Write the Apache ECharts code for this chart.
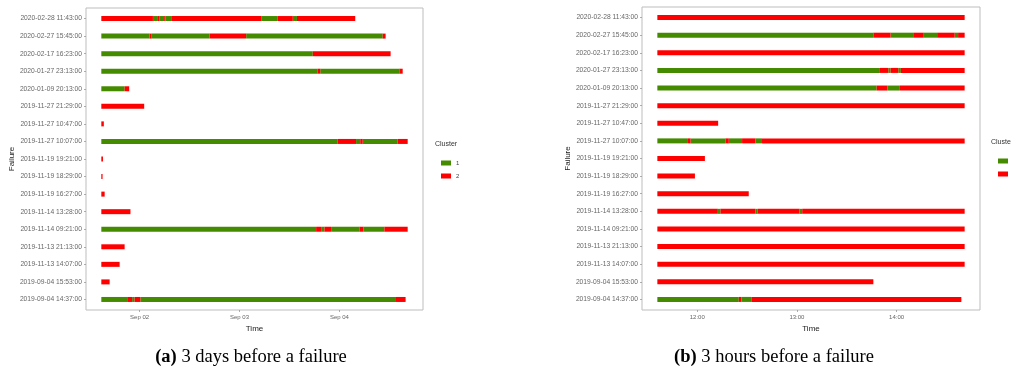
<!DOCTYPE html>
<html>
<head>
<meta charset="utf-8">
<script src="https://cdn.jsdelivr.net/npm/echarts@6/dist/echarts.min.js"></script>
<style>
html,body{margin:0;padding:0;background:#fff;}
#c{width:1011px;height:376px;}
</style>
</head>
<body>
<div id="c"></div>
<script>
// ---- data ----
const failureLabels = [
  '2020-02-28 11:43:00','2020-02-27 15:45:00','2020-02-17 16:23:00','2020-01-27 23:13:00',
  '2020-01-09 20:13:00','2019-11-27 21:29:00','2019-11-27 10:47:00','2019-11-27 10:07:00',
  '2019-11-19 19:21:00','2019-11-19 18:29:00','2019-11-19 16:27:00','2019-11-14 13:28:00',
  '2019-11-14 09:21:00','2019-11-13 21:13:00','2019-11-13 14:07:00','2019-09-04 15:53:00',
  '2019-09-04 14:37:00'
];
const clusterNames = ['1', '2'];

// (a) 3 days before a failure: hours since Sep 01 00:00, [start, end, cluster]
const segmentsDays = [
  [[14.8,27.2,2],[27.2,28.4,1],[28.4,28.7,2],[28.7,29.9,1],[29.9,30.2,2],[30.2,31.6,1],[31.6,53.2,2],[53.2,57.1,1],[57.1,60.8,2],[60.8,61.8,1],[61.8,75.8,2]],
  [[14.8,26.4,1],[26.4,26.9,2],[26.9,40.8,1],[40.8,49.6,2],[49.6,82.4,1],[82.4,83.1,2]],
  [[14.8,65.6,1],[65.6,84.3,2]],
  [[14.8,66.8,1],[66.8,67.4,2],[67.4,86.4,1],[86.4,87.2,2]],
  [[14.8,20.4,1],[20.4,21.5,2]],
  [[14.8,25.1,2]],
  [[14.8,15.4,2]],
  [[14.8,71.6,1],[71.6,76.0,2],[76.0,77.0,1],[77.0,77.6,2],[77.6,86.0,1],[86.0,88.4,2]],
  [[14.8,15.2,2]],
  [[14.8,15.1,2]],
  [[14.8,15.6,2]],
  [[14.8,21.8,2]],
  [[14.8,66.4,1],[66.4,67.6,2],[67.6,68.4,1],[68.4,70.0,2],[70.0,76.8,1],[76.8,77.8,2],[77.8,82.8,1],[82.8,88.4,2]],
  [[14.8,20.4,2]],
  [[14.8,19.2,2]],
  [[14.8,16.8,2]],
  [[14.8,21.2,1],[21.2,22.2,2],[22.2,22.8,1],[22.8,24.2,2],[24.2,85.6,1],[85.6,87.9,2]]
];
const dayTicks = [24, 48, 72];
const dayTickLabels = ['Sep 02', 'Sep 03', 'Sep 04'];

// (b) 3 hours before a failure: hour of day, [start, end, cluster]
const segmentsHours = [
  [[11.6,14.683,2]],
  [[11.6,13.767,1],[13.767,13.94,2],[13.94,14.167,1],[14.167,14.273,2],[14.273,14.407,1],[14.407,14.583,2],[14.583,14.617,1],[14.617,14.683,2]],
  [[11.6,14.683,2]],
  [[11.6,13.833,1],[13.833,13.917,2],[13.917,13.94,1],[13.94,14.017,2],[14.017,14.043,1],[14.043,14.683,2]],
  [[11.6,13.8,1],[13.8,13.907,2],[13.907,14.033,1],[14.033,14.683,2]],
  [[11.6,14.683,2]],
  [[11.6,12.21,2]],
  [[11.6,11.907,1],[11.907,11.933,2],[11.933,12.283,1],[12.283,12.317,2],[12.317,12.45,1],[12.45,12.583,2],[12.583,12.65,1],[12.65,14.683,2]],
  [[11.6,12.077,2]],
  [[11.6,11.977,2]],
  [[11.6,12.517,2]],
  [[11.6,12.207,2],[12.207,12.233,1],[12.233,12.583,2],[12.583,12.607,1],[12.607,13.027,2],[13.027,13.053,1],[13.053,14.683,2]],
  [[11.6,14.683,2]],
  [[11.6,14.683,2]],
  [[11.6,14.683,2]],
  [[11.6,13.767,2]],
  [[11.6,12.417,1],[12.417,12.443,2],[12.443,12.543,1],[12.543,14.65,2]]
];
const hourTicks = [12, 13, 14];
const hourTickLabels = ['12:00', '13:00', '14:00'];

// ---- chart ----
const GREEN = '#458B00', RED = '#FF0000';
const rowValues = failureLabels.map((_, i) => i + 1);

function toData(segs, cl) {
  const out = [];
  segs.forEach((row, i) => row.forEach(s => { if (s[2] === cl) out.push([i + 1, s[0], s[1]]); }));
  return out;
}
function renderItem(params, api) {
  const row = api.value(0);
  const p0 = api.coord([api.value(1), row]);
  const p1 = api.coord([api.value(2), row]);
  const h = 5;
  return {
    type: 'rect',
    shape: { x: p0[0], y: p0[1] - h / 2, width: Math.max(p1[0] - p0[0], 1), height: h },
    style: api.style()
  };
}
const font = 'Liberation Sans';
function yAxis(idx) {
  return {
    type: 'value', gridIndex: idx, min: 0.4, max: 17.6, inverse: true,
    name: 'Failure', nameLocation: 'middle', nameRotate: 90, nameGap: 68,
    nameTextStyle: { fontSize: 8, color: '#222', fontFamily: font },
    axisLine: { show: false }, splitLine: { show: false },
    axisTick: { show: true, length: 2, customValues: rowValues, lineStyle: { color: '#999', width: 0.8 } },
    axisLabel: { customValues: rowValues, margin: 4, fontSize: 6.7, color: '#666', fontFamily: font,
      formatter: v => failureLabels[Math.round(v) - 1] }
  };
}
function xAxis(idx, min, max, ticks, labels) {
  return {
    type: 'value', gridIndex: idx, min: min, max: max,
    name: 'Time', nameLocation: 'middle', nameGap: 10,
    nameTextStyle: { fontSize: 8, color: '#222', fontFamily: font },
    axisLine: { show: false }, splitLine: { show: false },
    axisTick: { show: true, length: 2, customValues: ticks, lineStyle: { color: '#999', width: 0.8 } },
    axisLabel: { customValues: ticks, margin: 4, fontSize: 6, color: '#666', fontFamily: font,
      formatter: v => labels[ticks.indexOf(v)] }
  };
}
function legend(left, top) {
  return {
    left: left, top: top, orient: 'vertical', data: clusterNames, icon: 'rect',
    itemWidth: 10, itemHeight: 5, itemGap: 7, selectedMode: false,
    textStyle: { fontSize: 6, color: '#444', fontFamily: font }
  };
}
const chart = echarts.init(document.getElementById('c'), null, { renderer: 'canvas' });
chart.setOption({
  animation: false,
  backgroundColor: '#fff',
  grid: [
    { left: 86, top: 8, width: 337, height: 302, show: true, borderColor: '#bdbdbd', borderWidth: 1, backgroundColor: '#fff' },
    { left: 642, top: 7, width: 338, height: 303, show: true, borderColor: '#bdbdbd', borderWidth: 1, backgroundColor: '#fff' }
  ],
  xAxis: [
    xAxis(0, 11.12, 92.08, dayTicks, dayTickLabels),
    xAxis(1, 11.446, 14.837, hourTicks, hourTickLabels)
  ],
  yAxis: [yAxis(0), yAxis(1)],
  legend: [legend(436, 155), legend(993, 153)],
  series: [
    { type: 'custom', name: clusterNames[0], xAxisIndex: 0, yAxisIndex: 0, renderItem, itemStyle: { color: GREEN }, encode: { x: [1, 2], y: 0 }, data: toData(segmentsDays, 1) },
    { type: 'custom', name: clusterNames[1], xAxisIndex: 0, yAxisIndex: 0, renderItem, itemStyle: { color: RED }, encode: { x: [1, 2], y: 0 }, data: toData(segmentsDays, 2) },
    { type: 'custom', name: clusterNames[0], xAxisIndex: 1, yAxisIndex: 1, renderItem, itemStyle: { color: GREEN }, encode: { x: [1, 2], y: 0 }, data: toData(segmentsHours, 1) },
    { type: 'custom', name: clusterNames[1], xAxisIndex: 1, yAxisIndex: 1, renderItem, itemStyle: { color: RED }, encode: { x: [1, 2], y: 0 }, data: toData(segmentsHours, 2) }
  ],
  graphic: [
    { type: 'text', left: 435, top: 141, style: { text: 'Cluster', fontSize: 7, fill: '#333', fontFamily: font } },
    { type: 'text', left: 991, top: 139, style: { text: 'Cluster', fontSize: 7, fill: '#333', fontFamily: font } },
    { type: 'text', x: 251, y: 357, style: { text: '{b|(a)} 3 days before a failure', align: 'center', verticalAlign: 'middle', fontSize: 18.5, fill: '#000', fontFamily: 'Liberation Serif', rich: { b: { fontWeight: 'bold', fontSize: 18.5, fontFamily: 'Liberation Serif', fill: '#000' } } } },
    { type: 'text', x: 774, y: 357, style: { text: '{b|(b)} 3 hours before a failure', align: 'center', verticalAlign: 'middle', fontSize: 18.5, fill: '#000', fontFamily: 'Liberation Serif', rich: { b: { fontWeight: 'bold', fontSize: 18.5, fontFamily: 'Liberation Serif', fill: '#000' } } } }
  ]
});
</script>
</body>
</html>
